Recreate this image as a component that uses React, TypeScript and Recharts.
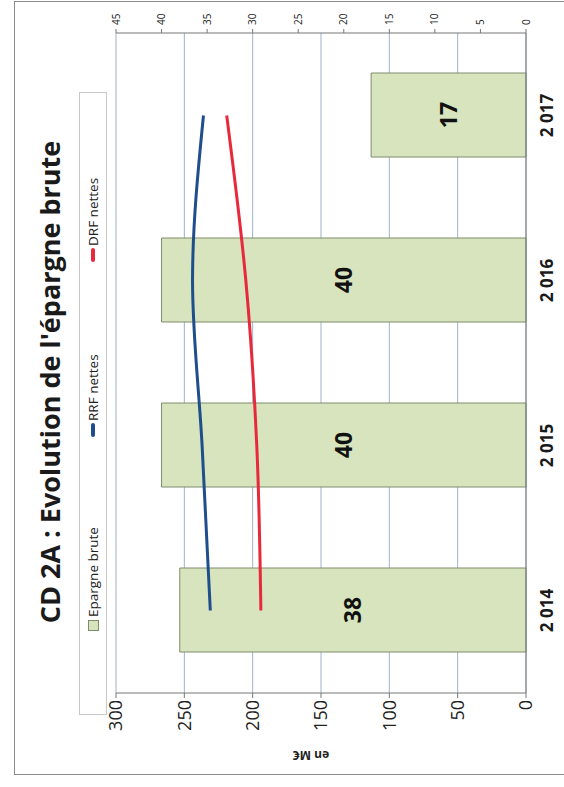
import React from "react";
import {
  ComposedChart, Bar, Line, XAxis, YAxis, CartesianGrid, LabelList
} from "recharts";

const years = ["2 014", "2 015", "2 016", "2 017"];
const epargneBrute = [38, 40, 40, 17];
const rrfNettes = [231, 237, 244, 236];
const drfNettes = [194, 197, 205, 219];
const leftTicks = [0, 50, 100, 150, 200, 250, 300];
const rightTicks = [0, 5, 10, 15, 20, 25, 30, 35, 40, 45];

const titleText = "CD 2A : Evolution de l'épargne brute";
const seriesNames = ["Epargne brute", "RRF nettes", "DRF nettes"];

const GREEN = "#d7e4bd";
const GREEN_EDGE = "#7e8c6c";
const BLUE = "#1f4e8c";
const RED = "#e8293b";
const FONT = "'Open Sans', 'Liberation Sans', sans-serif";

// chart is drawn in its own orientation, then the whole sheet is turned a quarter
const W = 787;
const H = 564;

const data = years.map((year, i) => ({
  year,
  epargne: epargneBrute[i],
  rrf: rrfNettes[i],
  drf: drfNettes[i],
}));

function AxisTitle(props: any) {
  const { viewBox } = props;
  const x = viewBox.x + 32;
  const y = viewBox.y + viewBox.height / 2 - 10;
  return (
    <text
      x={x}
      y={y}
      transform={`rotate(-90, ${x}, ${y})`}
      textAnchor="middle"
      dominantBaseline="central"
      fontSize={12}
      fontWeight="bold"
      fontFamily={FONT}
      fill="#222"
    >
      en M€
    </text>
  );
}

function LegendBox() {
  const icons = [
    <span key="g" style={{ display: "inline-block", width: 9, height: 9, background: GREEN, border: `1px solid ${GREEN_EDGE}`, marginRight: 3 }} />,
    <span key="b" style={{ display: "inline-block", width: 14, height: 4, background: BLUE, borderRadius: 2, marginRight: 2 }} />,
    <span key="r" style={{ display: "inline-block", width: 14, height: 4, background: RED, borderRadius: 2, marginRight: 2 }} />,
  ];
  const offsets = [83, 277, 452];
  return (
    <div
      style={{
        position: "absolute", left: 72, top: 79, width: 623, height: 28,
        border: "1px solid #c9c9c9", boxSizing: "border-box", background: "#fff",
      }}
    >
      {seriesNames.map((name, i) => (
        <div
          key={name}
          style={{
            position: "absolute", left: offsets[i], top: 0, height: 26,
            display: "flex", alignItems: "center", fontFamily: FONT,
            fontSize: 13.5, color: "#222", whiteSpace: "nowrap",
          }}
        >
          {icons[i]}
          {name}
        </div>
      ))}
    </div>
  );
}

export default function App() {
  return (
    <div style={{ position: "fixed", left: 0, top: 0, width: 564, height: 787, overflow: "hidden", background: "#fff" }}>
      <div
        style={{
          position: "absolute", left: 0, top: 787, width: W, height: H,
          transform: "rotate(-90deg)", transformOrigin: "0 0",
        }}
      >
        <div
          style={{
            position: "absolute", left: 12, top: 14, width: 774, height: 620,
            border: "1px solid #8a8a8a", boxSizing: "border-box",
          }}
        />
        <div
          style={{
            position: "absolute", left: 0, top: 32, width: 810, height: 36,
            lineHeight: "36px", textAlign: "center", fontFamily: FONT,
            fontWeight: "bold", fontSize: 27, color: "#1a1a1a", whiteSpace: "nowrap",
          }}
        >
          {titleText}
        </div>
        <LegendBox />
        <div style={{ position: "absolute", left: 0, top: 0 }}>
          <ComposedChart
            width={W}
            height={H}
            data={data}
            margin={{ top: 116, right: 0, bottom: 0, left: 0 }}
            barSize={84}
          >
            <CartesianGrid yAxisId="left" vertical={false} stroke="#9fb3cd" strokeWidth={1} />
            <XAxis
              dataKey="year"
              height={38}
              axisLine={{ stroke: "#777" }}
              tickLine={false}
              tickSize={6}
              tickMargin={9}
              tick={{ fontSize: 17, fontWeight: "bold", fill: "#1a1a1a", fontFamily: FONT }}
            />
            <YAxis
              yAxisId="left"
              orientation="left"
              domain={[0, 300]}
              ticks={leftTicks}
              width={94}
              tickSize={5}
              tickMargin={2}
              axisLine={{ stroke: "#777" }}
              tickLine={{ stroke: "#777" }}
              tick={{ fontSize: 18, fill: "#222", fontFamily: FONT }}
              label={<AxisTitle />}
            />
            <YAxis
              yAxisId="right"
              orientation="right"
              domain={[0, 45]}
              ticks={rightTicks}
              width={33}
              tickSize={4}
              tickMargin={4}
              axisLine={{ stroke: "#777" }}
              tickLine={{ stroke: "#777" }}
              tick={{ fontSize: 10, fill: "#222", fontFamily: FONT }}
            />
            <Bar
              yAxisId="right"
              dataKey="epargne"
              fill={GREEN}
              stroke={GREEN_EDGE}
              strokeWidth={1}
              isAnimationActive={false}
            >
              <LabelList
                dataKey="epargne"
                position="center"
                fill="#111"
                fontSize={23}
                fontWeight="bold"
                fontFamily={FONT}
              />
            </Bar>
            <Line
              yAxisId="left"
              type="monotone"
              dataKey="rrf"
              stroke={BLUE}
              strokeWidth={3}
              dot={false}
              isAnimationActive={false}
            />
            <Line
              yAxisId="left"
              type="monotone"
              dataKey="drf"
              stroke={RED}
              strokeWidth={3}
              dot={false}
              isAnimationActive={false}
            />
          </ComposedChart>
        </div>
      </div>
    </div>
  );
}
